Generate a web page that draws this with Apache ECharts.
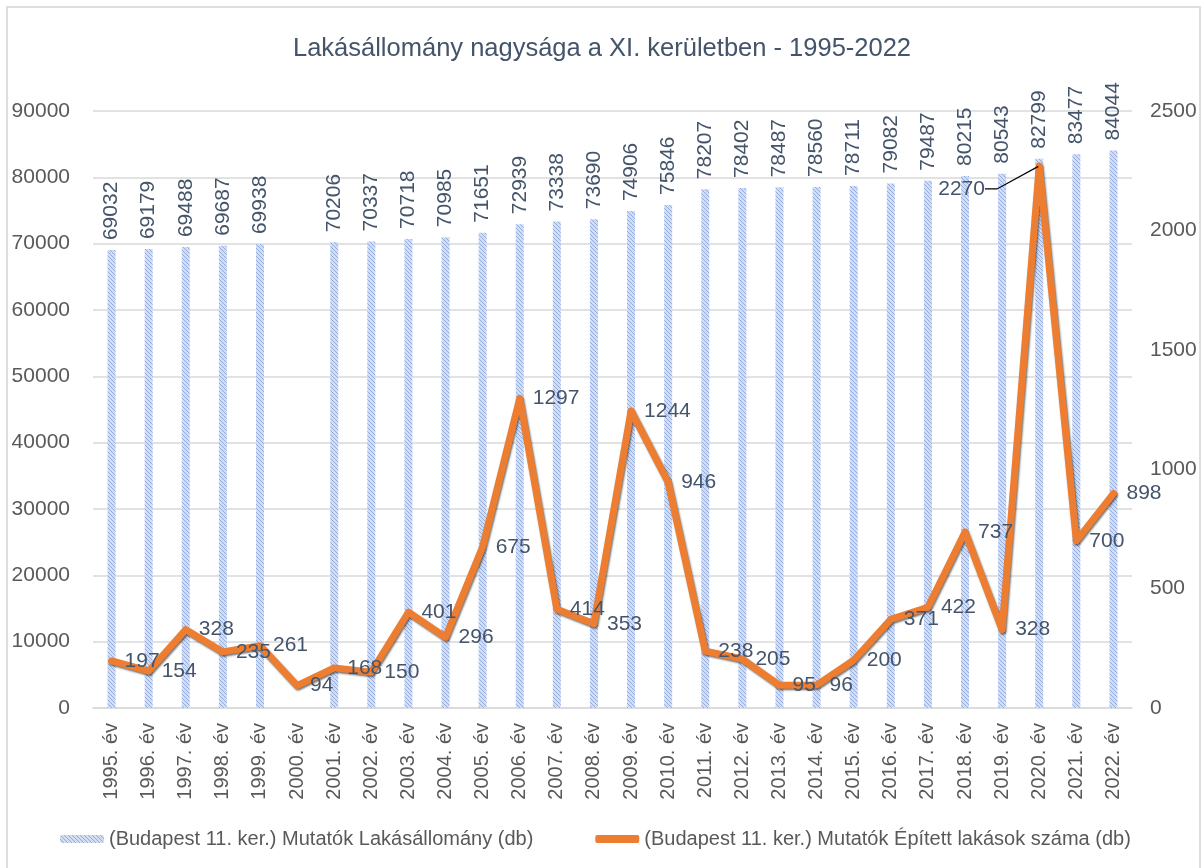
<!DOCTYPE html>
<html>
<head>
<meta charset="utf-8">
<script src="https://cdn.jsdelivr.net/npm/echarts@6/dist/echarts.min.js"></script>
<style>
  html, body { margin: 0; padding: 0; background: #ffffff; }
  #chart { width: 1204px; height: 868px; }
</style>
</head>
<body>
<div id="chart"></div>
<script>
// Years on the category axis
const years = ['1995. év','1996. év','1997. év','1998. év','1999. év','2000. év','2001. év','2002. év',
  '2003. év','2004. év','2005. év','2006. év','2007. év','2008. év','2009. év','2010. év','2011. év',
  '2012. év','2013. év','2014. év','2015. év','2016. év','2017. év','2018. év','2019. év','2020. év',
  '2021. év','2022. év'];

// Housing stock (db) – no figure for 2000
const stock = [69032, 69179, 69488, 69687, 69938, null, 70206, 70337, 70718, 70985, 71651, 72939,
  73338, 73690, 74906, 75846, 78207, 78402, 78487, 78560, 78711, 79082, 79487, 80215, 80543,
  82799, 83477, 84044];

// Newly built dwellings (db)
const built = [197, 154, 328, 235, 261, 94, 168, 150, 401, 296, 675, 1297, 414, 353, 1244, 946,
  238, 205, 95, 96, 200, 371, 422, 737, 328, 2270, 700, 898];

// Left and right axis ranges
const leftAxis = { min: 0, max: 90000, step: 10000 };
const rightAxis = { min: 0, max: 2500, step: 500 };

const stockName = '(Budapest 11. ker.) Mutatók Lakásállomány (db)';
const builtName = '(Budapest 11. ker.) Mutatók Épített lakások száma (db)';

// Light blue diagonal hatch used to fill the bars
function hatch() {
  const c = document.createElement('canvas');
  c.width = 4; c.height = 4;
  const g = c.getContext('2d');
  g.fillStyle = '#d3ddf1';
  g.fillRect(0, 0, 4, 4);
  g.fillStyle = '#94ade0';
  for (let i = 0; i < 4; i++) g.fillRect(i, i, 1, 1);
  return { image: c, repeat: 'repeat' };
}
const hatchFill = hatch();

const labelColor = '#44546A';
const axisColor = '#595959';
const orange = '#ED7D31';
const font = '"Liberation Sans", Arial, sans-serif';
const plain = v => String(v);

// The highest point gets its label pulled to the left with a leader line
const peakIdx = built.indexOf(Math.max(...built));
const builtData = built.map((v, i) => i === peakIdx
  ? { value: v, labelLine: { show: true, length2: 12, lineStyle: { color: '#000', width: 1.2 } } }
  : v);

const chart = echarts.init(document.getElementById('chart'), null, { renderer: 'canvas' });

chart.setOption({
  backgroundColor: '#ffffff',
  animation: false,
  textStyle: { fontFamily: font },
  title: {
    text: 'Lakásállomány nagysága a XI. kerületben - 1995-2022',
    left: 'center',
    top: 31,
    textStyle: { color: labelColor, fontSize: 25.5, fontWeight: 'normal', fontFamily: font }
  },
  graphic: [{
    type: 'rect',
    shape: { x: 7, y: 7, width: 1193, height: 900 },
    style: { fill: 'none', stroke: '#dedede', lineWidth: 2 },
    silent: true
  }],
  legend: {
    bottom: 14,
    left: 55,
    itemWidth: 44,
    itemHeight: 8,
    itemGap: 62,
    textStyle: { color: axisColor, fontSize: 20, fontFamily: font },
    data: [
      { name: stockName },
      { name: builtName, icon: 'roundRect', itemStyle: { color: orange } }
    ]
  },
  grid: { left: 93, right: 72, top: 111, bottom: 160, containLabel: false },
  xAxis: {
    type: 'category',
    data: years,
    boundaryGap: true,
    axisLine: { lineStyle: { color: '#d9d9d9', width: 1.5 } },
    axisTick: { show: false },
    axisLabel: { rotate: 90, color: axisColor, fontSize: 20, margin: 15, interval: 0, fontFamily: font }
  },
  yAxis: [{
    type: 'value',
    min: leftAxis.min, max: leftAxis.max, interval: leftAxis.step,
    axisLine: { show: false }, axisTick: { show: false },
    axisLabel: { color: axisColor, fontSize: 21, margin: 23, fontFamily: font, formatter: plain },
    splitLine: { lineStyle: { color: '#d9d9d9', width: 1.5 } }
  }, {
    type: 'value',
    min: rightAxis.min, max: rightAxis.max, interval: rightAxis.step,
    axisLine: { show: false }, axisTick: { show: false },
    axisLabel: { color: axisColor, fontSize: 21, margin: 18, fontFamily: font, formatter: plain },
    splitLine: { show: false }
  }],
  series: [{
    name: stockName,
    type: 'bar',
    data: stock,
    barWidth: 8,
    itemStyle: { color: hatchFill },
    label: {
      show: true,
      position: 'top',
      rotate: 90,
      align: 'left',
      verticalAlign: 'middle',
      distance: 10,
      color: labelColor,
      fontSize: 21,
      fontFamily: font
    },
    z: 2
  }, {
    name: builtName,
    type: 'line',
    yAxisIndex: 1,
    data: builtData,
    symbol: 'circle',
    symbolSize: 2,
    itemStyle: { color: orange },
    lineStyle: {
      color: orange, width: 7, join: 'round', cap: 'round',
      shadowColor: 'rgba(0,0,0,0.55)', shadowBlur: 2, shadowOffsetX: 1, shadowOffsetY: 1.5
    },
    label: {
      show: true,
      position: 'right',
      distance: 12,
      color: labelColor,
      fontSize: 21,
      fontFamily: font
    },
    labelLayout: function (p) {
      if (p.dataIndex === peakIdx) {
        return { dx: -114, dy: 23 };
      }
      return {};
    },
    z: 5
  }]
});
</script>
</body>
</html>
